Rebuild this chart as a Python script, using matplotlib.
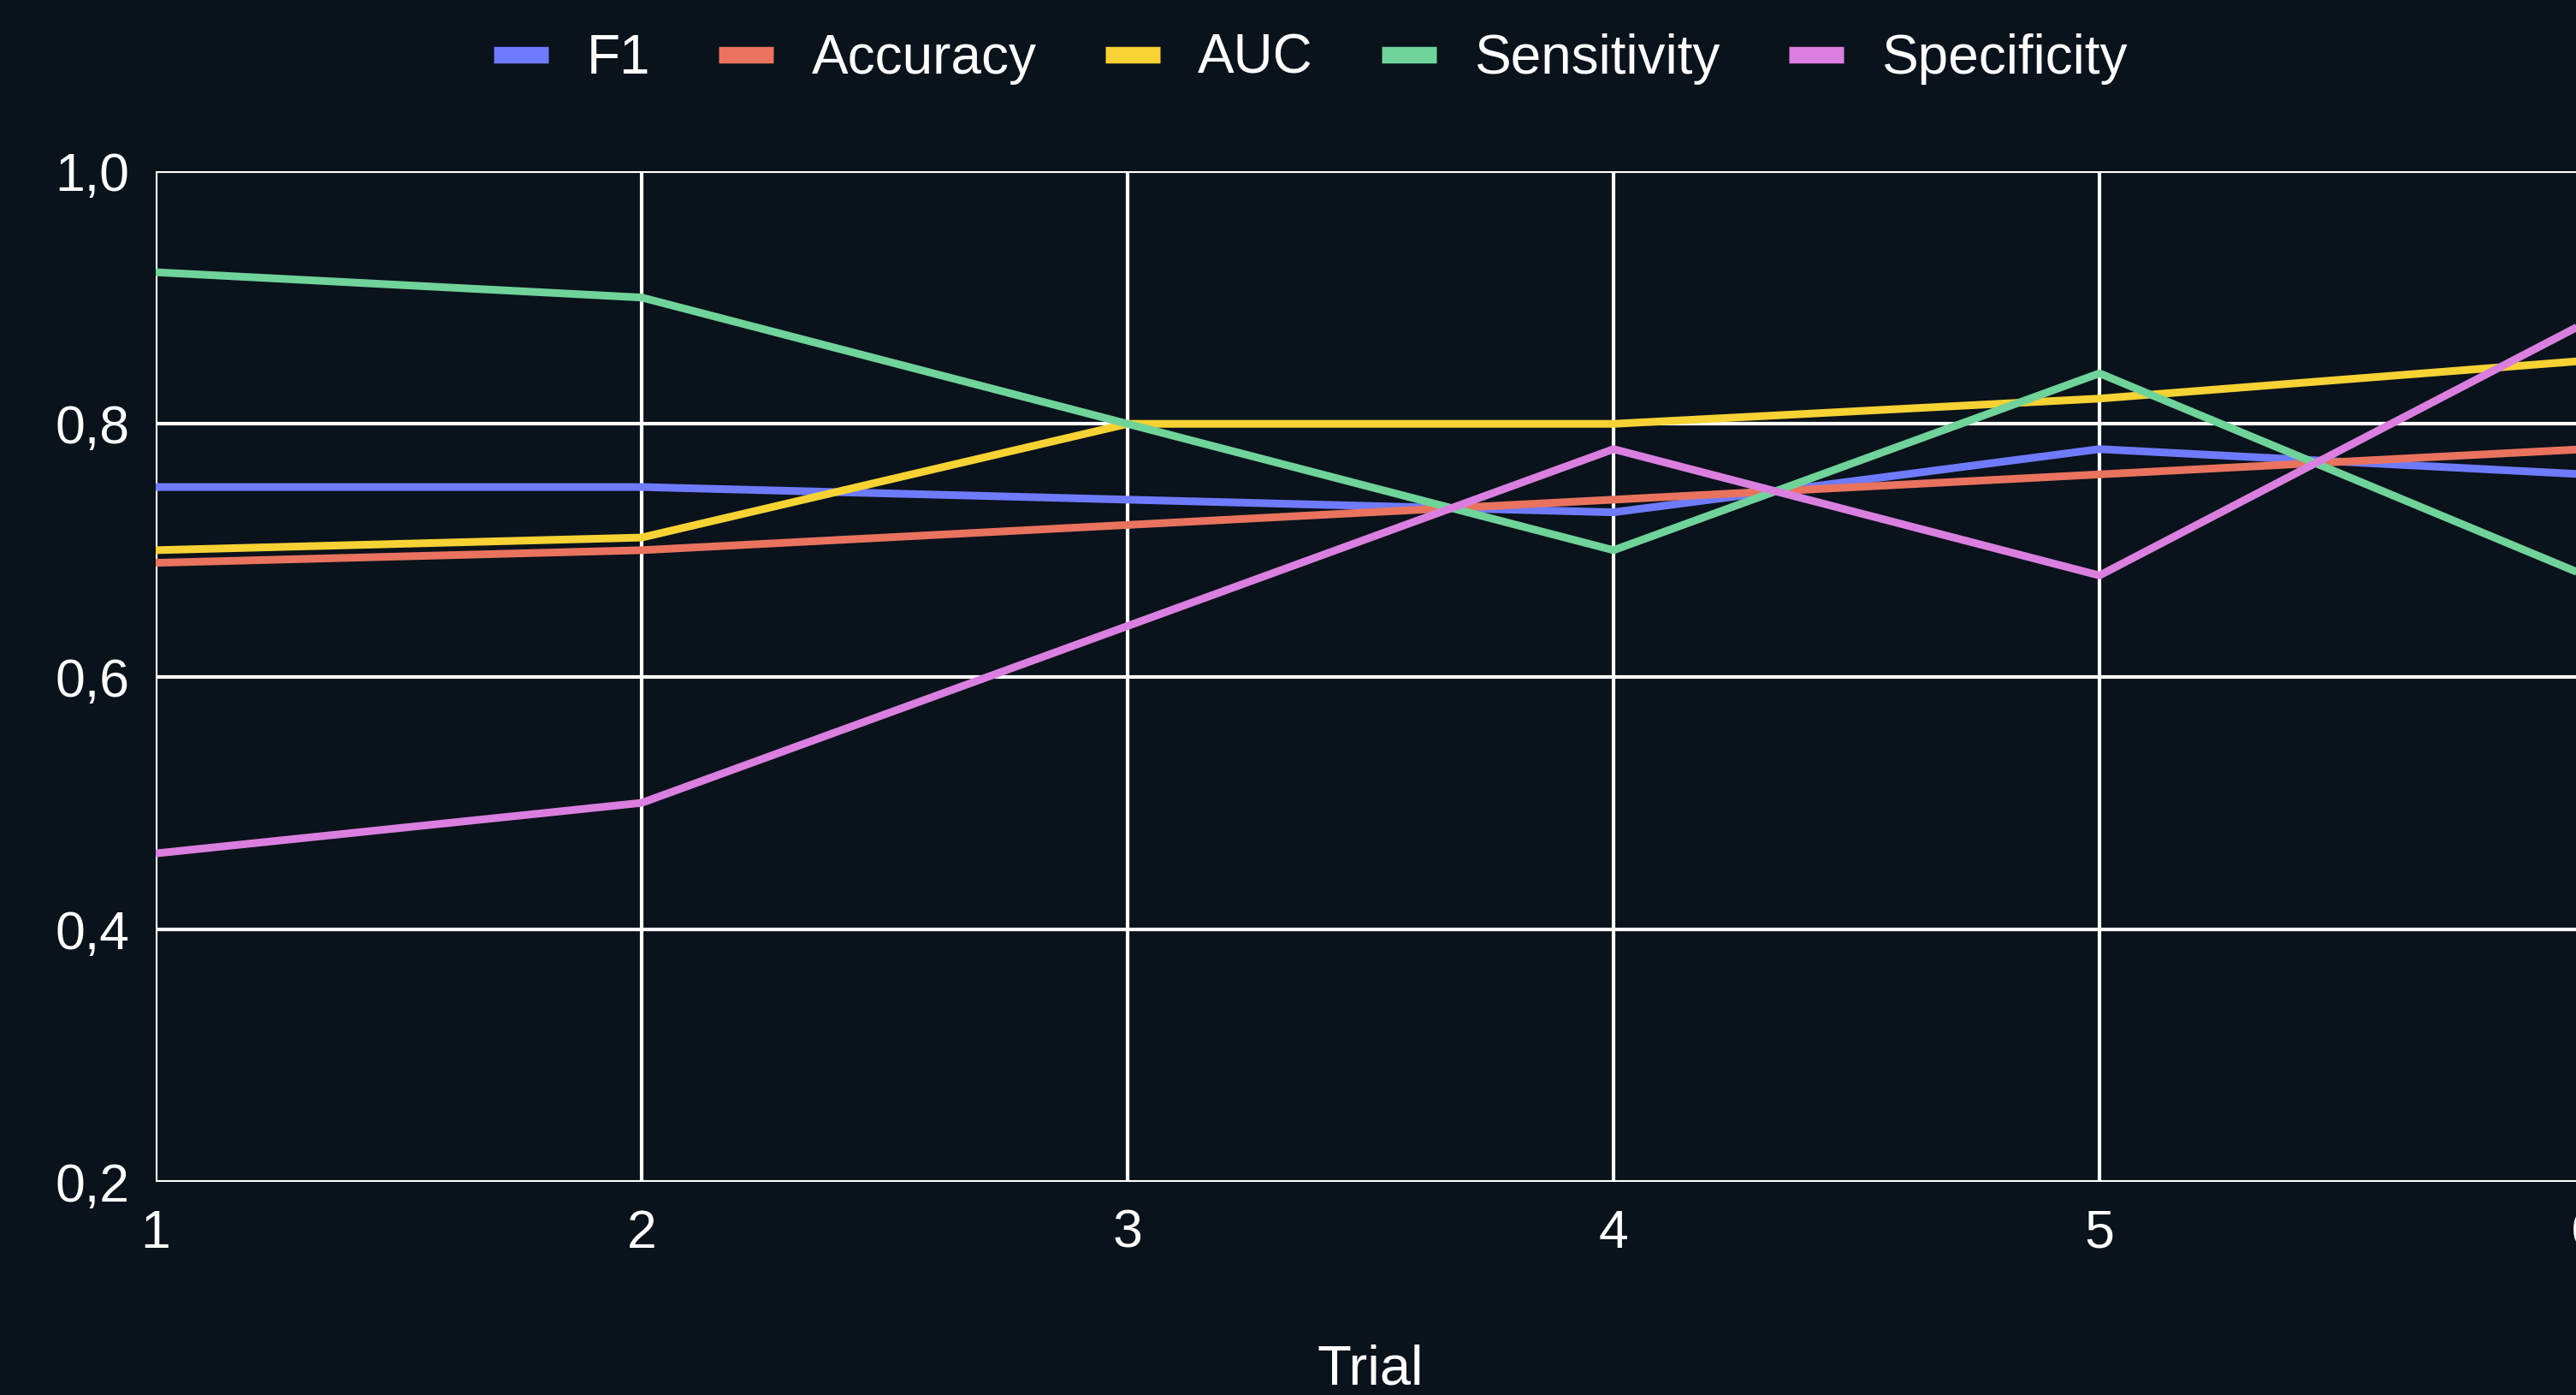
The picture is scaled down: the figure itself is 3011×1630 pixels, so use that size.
import matplotlib
matplotlib.use("Agg")
import matplotlib.pyplot as plt
from matplotlib.lines import Line2D
from matplotlib.ticker import FuncFormatter

trials = [1, 2, 3, 4, 5, 6]

f1 = [0.75, 0.75, 0.74, 0.73, 0.78, 0.76]
accuracy = [0.69, 0.70, 0.72, 0.74, 0.76, 0.78]
auc = [0.70, 0.71, 0.80, 0.80, 0.82, 0.85]
sensitivity = [0.92, 0.90, 0.80, 0.70, 0.84, 0.68]
specificity = [0.46, 0.50, 0.64, 0.78, 0.68, 0.88]

names = ["F1", "Accuracy", "AUC", "Sensitivity", "Specificity"]
colors = ["#6e7bff", "#e9735e", "#f6d234", "#70d39a", "#da7fe0"]
series = [f1, accuracy, auc, sensitivity, specificity]

bg = "#0a121b"
plt.rcParams["font.family"] = ["Liberation Sans", "DejaVu Sans"]

fig = plt.figure(figsize=(30.11, 16.30), dpi=100, facecolor=bg)
# axes run past the right edge, so trial 6 sits just outside the frame
ax = fig.add_axes([182 / 3011, 1 - 1381 / 1630, (3022 - 182) / 3011, (1381 - 200) / 1630])
ax.set_facecolor(bg)

for vals, c, n in zip(series, colors, names):
    ax.plot(trials, vals, color=c, lw=6.5, label=n, solid_capstyle="butt", zorder=3)

ax.set_xlim(1, 6)
ax.set_ylim(0.2, 1.0)
ax.set_xticks(trials)
ax.set_yticks([0.2, 0.4, 0.6, 0.8, 1.0])
ax.yaxis.set_major_formatter(FuncFormatter(lambda v, p: f"{v:.1f}".replace(".", ",")))
ax.grid(True, color="white", lw=3, zorder=1)
for s in ax.spines.values():
    s.set_visible(False)
ax.tick_params(length=0, colors="white", labelsize=45, pad=22)

ax.set_xlabel("Trial", color="white", fontsize=47, va="center")
ax.xaxis.set_label_coords(0.5, -(1600 - 1381) / 1181)

handles = [Line2D([0], [0], color=c, lw=14, solid_capstyle="butt") for c in colors]
leg = fig.legend(handles, names, loc="center", bbox_to_anchor=(1532 / 3011, 1 - 69 / 1630),
                 ncol=5, frameon=False, fontsize=46, handlelength=1.0,
                 handletextpad=0.7, columnspacing=1.25)
for t in leg.get_texts():
    t.set_color("white")

fig.savefig("out.png", dpi=100, facecolor=bg)
